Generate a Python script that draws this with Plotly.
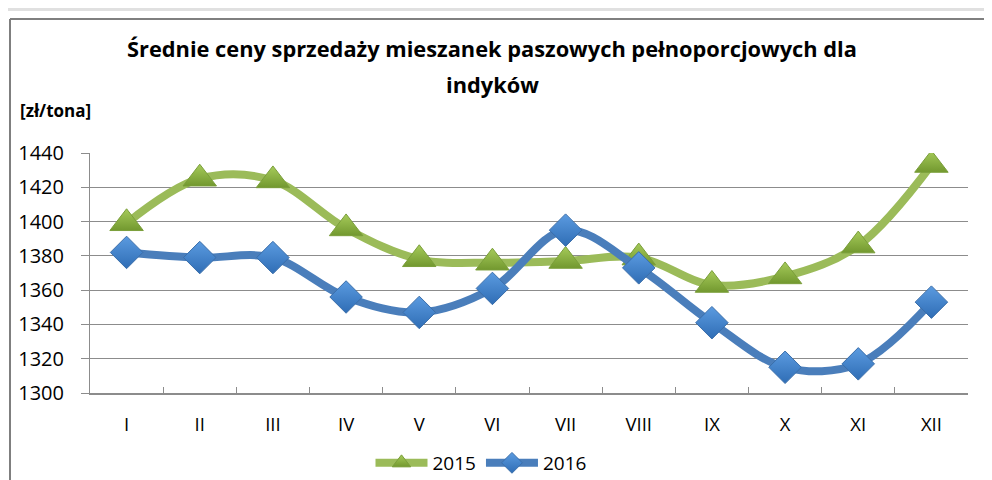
import plotly.graph_objects as go

months = ["I", "II", "III", "IV", "V", "VI", "VII", "VIII", "IX", "X", "XI", "XII"]
y2015 = [1399, 1425, 1424, 1396, 1378, 1376, 1377, 1379, 1363, 1368, 1386, 1433]
y2016 = [1382, 1379, 1379, 1356, 1347, 1361, 1395, 1373, 1341, 1315, 1317, 1353]
yticks = [1300, 1320, 1340, 1360, 1380, 1400, 1420, 1440]

title_l1 = "Średnie ceny sprzedaży mieszanek paszowych pełnoporcjowych dla"
title_l2 = "indyków"
unit_label = "[zł/tona]"

W, H = 992, 480
OFF = 8  # page body margin
ML, MT = 90 - OFF, 153 - OFF
PW, PH = 878, 240
MR = W - ML - PW
MB = H - MT - PH

def px_x(px):
    return (px - OFF - ML) / PW

def px_y(py):
    return (MT + PH - (py - OFF)) / PH

FONT = "Open Sans"

fig = go.Figure()
fig.add_trace(go.Scatter(
    x=months, y=y2015, name="2015", mode="lines+markers",
    line=dict(color="#9BBB59", width=8, shape="spline", smoothing=1),
    marker=dict(symbol="triangle-up", size=29, color="#A6CB5A",
                gradient=dict(type="vertical", color="#72982F"),
                line=dict(color="#7A9E3A", width=1)),
))
fig.add_trace(go.Scatter(
    x=months, y=y2016, name="2016", mode="lines+markers",
    line=dict(color="#4A7EBB", width=8, shape="spline", smoothing=1),
    marker=dict(symbol="diamond", size=25, color="#5B9BE0",
                gradient=dict(type="vertical", color="#2F6DB5"),
                line=dict(color="#3A6EAA", width=1)),
))

fig.update_layout(
    width=W, height=H,
    margin=dict(l=ML, r=MR, t=MT, b=MB, autoexpand=False),
    paper_bgcolor="white", plot_bgcolor="white",
    font=dict(family=FONT, size=19, color="#000000"),
    showlegend=True,
    legend=dict(orientation="h", x=px_x(481), xanchor="center", y=px_y(463), yanchor="middle",
                font=dict(size=19, family=FONT), itemwidth=52, traceorder="normal",
                bgcolor="rgba(0,0,0,0)"),
    xaxis=dict(type="category", range=[-0.5, 11.5], automargin=False, showgrid=False, showline=True,
               linecolor="#8C8C8C", linewidth=2,
               ticks="inside", ticklen=6, tickcolor="#8C8C8C", tickwidth=1, tickson="boundaries",
               tickfont=dict(size=18.5, family=FONT), zeroline=False, fixedrange=True,
               ticklabelstandoff=14),
    yaxis=dict(range=[1300, 1440], automargin=False, tickvals=yticks, showgrid=True, gridcolor="#8C8C8C",
               gridwidth=1, showline=True, linecolor="#8C8C8C", linewidth=1, ticks="outside", ticklen=8,
               tickcolor="#8C8C8C", tickfont=dict(size=20, family=FONT), zeroline=False,
               ticklabelstandoff=13),
    annotations=[
        dict(text="<b>%s</b>" % title_l1, x=px_x(492), y=px_y(48), xref="paper", yref="paper",
             showarrow=False, font=dict(size=21.8, family=FONT), xanchor="center", yanchor="middle"),
        dict(text="<b>%s</b>" % title_l2, x=px_x(492), y=px_y(85), xref="paper", yref="paper",
             showarrow=False, font=dict(size=21.8, family=FONT), xanchor="center", yanchor="middle"),
        dict(text="<b>%s</b>" % unit_label, x=px_x(18), y=px_y(111), xref="paper", yref="paper",
             showarrow=False, font=dict(size=17, family=FONT), xanchor="left", yanchor="middle"),
    ],
    shapes=[
        dict(type="line", xref="paper", yref="paper", x0=px_x(10), x1=px_x(10), y0=px_y(19), y1=px_y(495),
             line=dict(color="#7F7F7F", width=2)),
        dict(type="line", xref="paper", yref="paper", x0=px_x(10), x1=px_x(1010), y0=px_y(19), y1=px_y(19),
             line=dict(color="#7F7F7F", width=2)),
        dict(type="line", xref="paper", yref="paper", x0=px_x(8), x1=px_x(1010), y0=px_y(9.5), y1=px_y(9.5),
             line=dict(color="#E0E0E0", width=3)),
    ],
)

fig.write_html("out.html")
